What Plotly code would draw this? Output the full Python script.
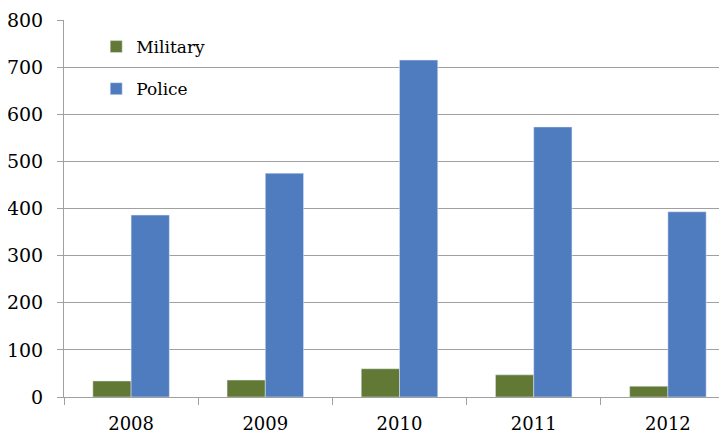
import plotly.graph_objects as go

years = ["2008", "2009", "2010", "2011", "2012"]
military = [34, 36, 60, 47, 23]
police = [386, 475, 715, 573, 393]
y_ticks = [0, 100, 200, 300, 400, 500, 600, 700, 800]

green = "#617935"
blue = "#4F7BBF"
grid = "#A0A0A0"
font_family = "DejaVu Serif"

fig = go.Figure()
fig.add_trace(go.Bar(x=years, y=military, name="Military", marker_color=green,
                     legendgroup="m"))
fig.add_trace(go.Bar(x=years, y=police, name="Police", marker_color=blue,
                     legendgroup="p"))

# the page body adds an 8px offset, so margins are reduced by 8px on left/top
fig.update_layout(
    width=727, height=434,
    margin=dict(l=56, r=0, t=12, b=45),
    paper_bgcolor="white", plot_bgcolor="white",
    barmode="group", bargap=0.43, bargroupgap=0,
    font=dict(family=font_family, size=18, color="black"),
    legend=dict(x=0.048, y=0.976, xanchor="left", yanchor="top",
                bgcolor="rgba(0,0,0,0)", font=dict(size=17),
                traceorder="grouped", tracegroupgap=17,
                itemwidth=30),
    showlegend=True,
)
fig.update_xaxes(
    type="category", range=[-0.5, 4.5], automargin=False,
    showline=True, linecolor=grid, linewidth=1,
    ticks="outside", tickson="boundaries", ticklen=7, tickcolor=grid,
    showgrid=False, tickfont=dict(size=18), ticklabelstandoff=10,
)
fig.update_yaxes(
    range=[0, 800], tickvals=y_ticks, automargin=False,
    showline=True, linecolor=grid, linewidth=1,
    ticks="outside", ticklen=6, tickcolor=grid,
    showgrid=True, gridcolor=grid, gridwidth=1,
    zeroline=False, tickfont=dict(size=19), ticklabelstandoff=10,
)

fig.write_html("out.html")
